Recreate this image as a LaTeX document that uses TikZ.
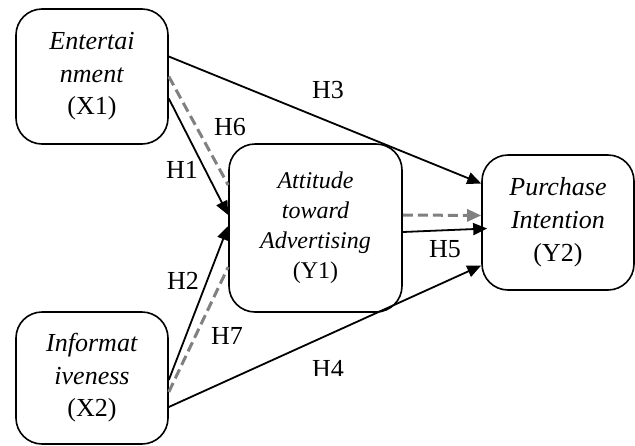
\documentclass[tikz,border=0pt]{standalone}
\usepackage{fontspec}
\setmainfont{Liberation Serif}
\usetikzlibrary{arrows.meta}
\begin{document}
\begin{tikzpicture}[x=1pt,y=-1pt,
  box/.style={draw, line width=1.6pt, rounded corners=26pt, align=center, inner sep=0pt},
  solidarrow/.style={line width=1.8pt, -{Triangle[length=14pt,width=12pt]}},
  dasharrow/.style={line width=3pt, color=gray, dash pattern=on 10pt off 5pt},
  lbl/.style={font=\fontsize{26}{30}\selectfont, inner sep=0pt}
]
\useasboundingbox (0,0) rectangle (635,445);
\node[box, minimum width=152pt, minimum height=135pt, font=\fontsize{26}{32.5}\selectfont] (X1) at (92,76.5) {\textit{Entertai}\\\textit{nment}\\(X1)};
\node[box, minimum width=152pt, minimum height=132pt, font=\fontsize{26}{32.5}\selectfont] (X2) at (92,378) {\textit{Informat}\\\textit{iveness}\\(X2)};
\node[box, minimum width=173pt, minimum height=168pt, font=\fontsize{24}{30}\selectfont] (Y1) at (315.5,228) {\textit{Attitude}\\\textit{toward}\\\textit{Advertising}\\(Y1)};
\node[box, minimum width=152pt, minimum height=135pt, font=\fontsize{26}{33}\selectfont] (Y2) at (558,222.5) {\textit{Purchase}\\\textit{Intention}\\(Y2)};

% dashed (mediation) lines
\draw[dasharrow] ([yshift=0pt]X1.east) -- ([yshift=43pt]Y1.west);
\draw[dasharrow] ([yshift=-14pt]X2.east) -- ([yshift=-39pt]Y1.west);
\draw[dasharrow, -{Triangle[length=14pt,width=12pt]}] ([yshift=13pt]Y1.east) -- ([yshift=7pt]Y2.west);

% solid arrows
\draw[solidarrow] ([yshift=20pt]X1.east) -- ([yshift=39pt]Y2.west);
\draw[solidarrow] ([yshift=-22pt]X1.east) -- ([yshift=13pt]Y1.west);
\draw[solidarrow] ([yshift=-2pt]X2.east) -- ([yshift=2pt]Y1.west);
\draw[solidarrow] ([yshift=-29pt]X2.east) -- ([yshift=-43pt]Y2.west);
\draw[solidarrow] ([yshift=-4pt]Y1.east) -- ([xshift=6pt,yshift=-6pt]Y2.west);

% labels
\node[lbl] (h3) at (328,90) {H3};
\node[lbl] (h6) at (230,127) {H6};
\node[lbl] (h1) at (182,170) {H1};
\node[lbl] (h2) at (183,281) {H2};
\node[lbl] (h7) at (227,336) {H7};
\begin{scope}
\clip (300,340) rectangle (360,375.5);
\node[lbl] (h4) at (328,368.5) {H4};
\end{scope}
\node[lbl] (h5) at (445,249) {H5};
\end{tikzpicture}
\end{document}
